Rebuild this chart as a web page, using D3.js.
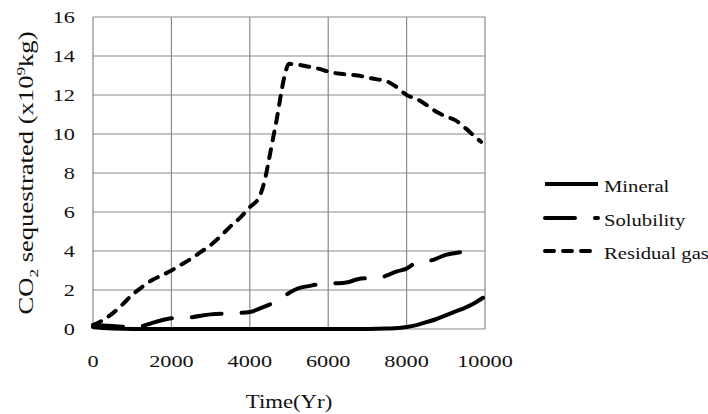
<!DOCTYPE html>
<html><head><meta charset="utf-8">
<script src="https://cdn.jsdelivr.net/npm/d3@7"></script>
<style>
html,body{margin:0;padding:0;background:#fff;}
svg{display:block;font-family:"Liberation Serif","Times New Roman",serif;}
</style></head>
<body><svg id="chart" width="708" height="414"></svg>
<script>
// ---- data ----
const xTicks = [0, 2000, 4000, 6000, 8000, 10000];
const yTicks = [0, 2, 4, 6, 8, 10, 12, 14, 16];
const seriesNames = ["Mineral", "Solubility", "Residual gas"];

const mineralYears = [0,250,500,1000,2000,3000,4000,5000,6000,7000,7500,7800,8000,8250,8500,8750,9000,9250,9500,9750,9950];
const mineralValues = [0.1,0.05,0.02,0,0,0,0,0,0,0,0.02,0.05,0.1,0.2,0.35,0.5,0.7,0.9,1.1,1.35,1.6];

const solubilityYears = [0,500,1000,1250,1500,1750,2000,2500,3000,3500,4000,4250,4500,4750,5000,5250,5500,5750,6000,6250,6500,6750,7000,7250,7500,7750,8000,8250,8500,8750,9000,9250,9500,9700];
const solubilityValues = [0.2,0.15,0.1,0.15,0.3,0.45,0.55,0.6,0.75,0.8,0.87,1.05,1.25,1.5,1.85,2.1,2.2,2.3,2.35,2.35,2.4,2.55,2.6,2.6,2.75,2.95,3.1,3.4,3.45,3.6,3.8,3.9,4.0,4.25];

const residualYears = [0,250,500,750,1000,1250,1500,1750,2000,2250,2500,2750,3000,3250,3500,3750,4000,4250,4400,4500,4600,4700,4800,4900,5000,5250,5500,5750,6000,6250,6500,6750,7000,7250,7500,7750,8000,8250,8500,8750,9000,9250,9500,9750,9900];
const residualValues = [0.2,0.45,0.8,1.25,1.75,2.15,2.5,2.75,3.0,3.3,3.6,3.95,4.3,4.75,5.25,5.7,6.25,6.8,7.8,8.8,9.85,10.9,12.1,13.1,13.6,13.55,13.45,13.35,13.2,13.1,13.05,13.0,12.9,12.8,12.7,12.4,12.0,11.8,11.5,11.15,10.9,10.7,10.3,9.85,9.6];

// ---- layout ----
const svg = d3.select("#chart");
const L = 93, R = 485, T = 17, B = 329;
const x = d3.scaleLinear().domain([0, 10000]).range([L, R]);
const y = d3.scaleLinear().domain([0, 16]).range([B, T]);
const gridColor = "#8a8a8a";
const textColor = "#111";

// gridlines
svg.append("g").selectAll("line").data(yTicks).join("line")
  .attr("x1", L).attr("x2", R).attr("y1", d => y(d)).attr("y2", d => y(d))
  .attr("stroke", gridColor).attr("stroke-width", 1.2);
svg.append("g").selectAll("line").data(xTicks).join("line")
  .attr("x1", d => x(d)).attr("x2", d => x(d)).attr("y1", T).attr("y2", B)
  .attr("stroke", gridColor).attr("stroke-width", 1.2);

// stretched text helper
function stext(g, tx, ty, str, size, sx, anchor, rot) {
  return g.append("text")
    .attr("transform", `translate(${tx},${ty})` + (rot ? ` rotate(${rot})` : "") + ` scale(${sx},1)`)
    .attr("font-size", size).attr("text-anchor", anchor).attr("fill", textColor)
    .text(str);
}

// tick labels
const tg = svg.append("g");
yTicks.forEach(d => stext(tg, 75, y(d) + 6, d3.format("d")(d), 16.5, 1.35, "end"));
xTicks.forEach(d => stext(tg, x(d), 367, d3.format("d")(d), 16.5, 1.35, "middle"));

// axis titles
stext(svg, 289, 408, "Time(Yr)", 19, 1.2, "middle");
const yt = svg.append("text")
  .attr("transform", "translate(33,173) rotate(-90) scale(1.33,1)")
  .attr("font-size", 20).attr("text-anchor", "middle").attr("fill", textColor);
yt.append("tspan").text("CO");
yt.append("tspan").attr("font-size", 13).attr("dy", 5).text("2");
yt.append("tspan").attr("dy", -5).text(" sequestrated (x10");
yt.append("tspan").attr("font-size", 13).attr("dy", -8).text("9");
yt.append("tspan").attr("dy", 8).text("kg)");

// lines
const styles = [
  {dash: null},
  {dash: "30,20"},
  {dash: "9,9"}
];
const series = [
  {name: seriesNames[0], years: mineralYears, values: mineralValues},
  {name: seriesNames[1], years: solubilityYears, values: solubilityValues},
  {name: seriesNames[2], years: residualYears, values: residualValues}
];
const line = d3.line().x(d => x(d[0])).y(d => y(d[1])).curve(d3.curveMonotoneX);
series.forEach((s, i) => {
  const pts = s.years.map((t, k) => [t, s.values[k]]);
  svg.append("path").datum(pts).attr("d", line)
    .attr("fill", "none").attr("stroke", "#000").attr("stroke-width", 4)
    .attr("stroke-linecap", "round").attr("stroke-linejoin", "round")
    .attr("stroke-dasharray", styles[i].dash);
});

// legend
const lg = svg.append("g");
const legY = [184, 218, 251];
series.forEach((s, i) => {
  lg.append("line").attr("x1", 545).attr("x2", 598).attr("y1", legY[i]).attr("y2", legY[i])
    .attr("stroke", "#000").attr("stroke-width", 4)
    .attr("stroke-linecap", i === 0 ? "butt" : "round")
    .attr("stroke-dasharray", styles[i].dash);
  stext(lg, 604, legY[i] + 8, s.name, 17.5, 1.18, "start");
});
</script></body></html>
